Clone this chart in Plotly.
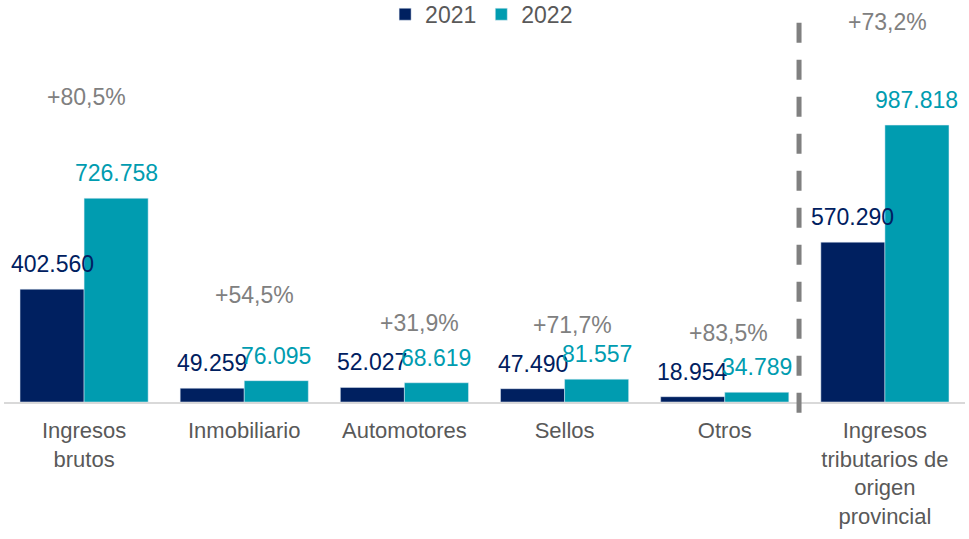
import plotly.graph_objects as go

categories = ["Ingresos<br>brutos", "Inmobiliario", "Automotores", "Sellos", "Otros",
              "Ingresos<br>tributarios de<br>origen<br>provincial"]
values_2021 = [402.560, 49.259, 52.027, 47.490, 18.954, 570.290]
values_2022 = [726.758, 76.095, 68.619, 81.557, 34.789, 987.818]
labels_2021 = ["402.560", "49.259", "52.027", "47.490", "18.954", "570.290"]
labels_2022 = ["726.758", "76.095", "68.619", "81.557", "34.789", "987.818"]
pct_labels = ["+80,5%", "+54,5%", "+31,9%", "+71,7%", "+83,5%", "+73,2%"]

# layout helpers for the percentage annotations (data-unit heights, pixel shifts)
pct_label_y = [1088, 382, 282, 275, 246, 1355]
pct_xshift = [2, 10, 15, 8, 4, 3]

C21 = "#002060"
C22 = "#009CB0"
GREY = "#808080"
FONT = "Liberation Sans, Arial, sans-serif"
FS = 23

fig = go.Figure()
fig.add_trace(go.Bar(name="2021", x=categories, y=values_2021, marker_color=C21))
fig.add_trace(go.Bar(name="2022", x=categories, y=values_2022, marker_color=C22))

ann = []
for i in range(len(categories)):
    ann.append(dict(x=i - 0.2, y=values_2021[i], xref="x", yref="y", text=labels_2021[i],
                    showarrow=False, yanchor="middle", yshift=25,
                    font=dict(family=FONT, size=FS, color=C21)))
    ann.append(dict(x=i + 0.2, y=values_2022[i], xref="x", yref="y", text=labels_2022[i],
                    showarrow=False, yanchor="middle", yshift=25,
                    font=dict(family=FONT, size=FS, color=C22)))
    ann.append(dict(x=i, y=pct_label_y[i], xref="x", yref="y", text=pct_labels[i],
                    showarrow=False, yanchor="middle", xshift=pct_xshift[i],
                    font=dict(family=FONT, size=FS, color=GREY)))

fig.update_layout(
    width=969, height=539,
    margin=dict(l=4, r=4, t=0, b=137, autoexpand=False),
    paper_bgcolor="white", plot_bgcolor="white",
    barmode="group", bargap=0.2, bargroupgap=0,
    font=dict(family=FONT, size=FS, color="#595959"),
    showlegend=True,
    legend=dict(orientation="h", x=0.497, xanchor="center", y=1.018, yanchor="top",
                font=dict(family=FONT, size=FS, color="#595959"),
                bgcolor="rgba(0,0,0,0)", itemwidth=30, traceorder="normal"),
    annotations=ann,
    shapes=[dict(type="line", xref="paper", yref="paper", x0=0.8273, x1=0.8273,
                 y0=-0.027, y1=0.955,
                 line=dict(color=GREY, width=5, dash="20px,17px"))],
)
fig.update_xaxes(showline=True, linecolor="#d9d9d9", linewidth=1.5, ticks="",
                 showgrid=False, tickfont=dict(family=FONT, size=22, color="#595959"),
                 ticklabelstandoff=8)
fig.update_yaxes(visible=False, range=[0, 1434], showgrid=False)

fig.write_html("out.html")
